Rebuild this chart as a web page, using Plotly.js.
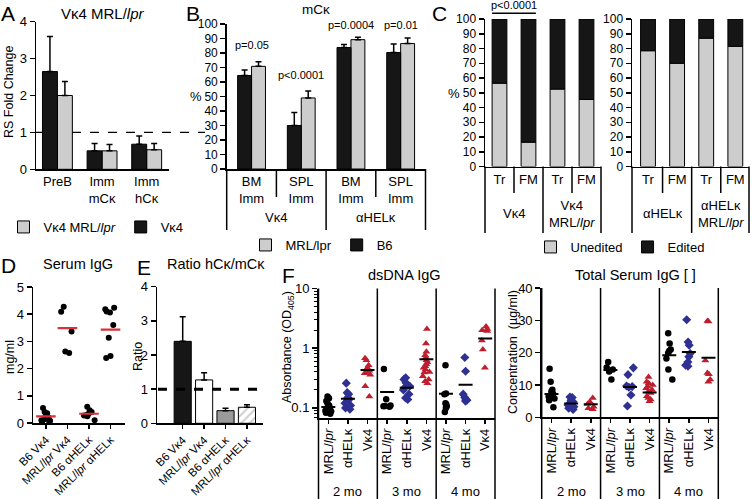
<!DOCTYPE html>
<html><head><meta charset="utf-8">
<script src="https://cdn.plot.ly/plotly-3.0.1.min.js"></script>
<style>html,body{margin:0;padding:0;background:#fff}#chart{width:752px;height:499px}</style>
</head><body><div id="chart"></div>
<script>
// ---------- DATA ----------
// A: RS fold change (Vκ4 MRL/lpr)
const catA = ['PreB', 'Imm<br>mCκ', 'Imm<br>hCκ'];
const aMrl = [2.0, 0.5, 0.53];
const aMrlErr = [0.38, 0.17, 0.17];
const aVk4 = [2.65, 0.5, 0.68];
const aVk4Err = [0.95, 0.2, 0.22];
// B: mCκ %
const catB = ['BM<br>Imm', 'SPL<br>Imm', 'BM<br>Imm', 'SPL<br>Imm'];
const groupB = ['Vκ4', 'αHELκ'];
const bMrl = [70.8, 49, 89.2, 86.5];
const bMrlErr = [3.2, 4.8, 1.6, 3.8];
const bB6 = [64.5, 30, 83.8, 80.3];
const bB6Err = [3.8, 9, 2.0, 5.9];
const pB = ['p=0.05', 'p<0.0001', 'p=0.0004', 'p=0.01'];
// C: % unedited / edited
const catC = ['Tr', 'FM', 'Tr', 'FM'];
const groupC1 = ['Vκ4', 'Vκ4<br>MRL/<i>lpr</i>'];
const groupC2 = ['αHELκ', 'αHELκ<br>MRL/<i>lpr</i>'];
const c1Unedited = [56.5, 16.5, 52.5, 45.5];
const c1Edited = [43.5, 83.5, 47.5, 54.5];
const c2Unedited = [78.5, 70, 87, 81.5];
const c2Edited = [21.5, 30, 13, 18.5];
// D: serum IgG (mg/ml)
const catD = ['B6 Vκ4', 'MRL/<i>lpr</i> Vκ4', 'B6 αHELκ', 'MRL/<i>lpr</i> αHELκ'];
const igB6Vk = [0.55, 0.4, 0.36, 0.25, 0.2, 0.15, 0.1, 0.08, 0.05, 0.05];
const igMrlVk = [4.27, 4.09, 3.36, 2.63, 2.57];
const igB6Hel = [0.6, 0.47, 0.4, 0.35, 0.3, 0.28, 0.25, 0.1];
const igMrlHel = [4.24, 4.18, 4.1, 4.06, 3.6, 3.13, 2.46, 2.39];
const igMeans = [0.24, 3.49, 0.34, 3.43];
// E: ratio hCκ/mCκ
const eRatio = [2.4, 1.27, 0.37, 0.47];
const eErr = [0.72, 0.21, 0.07, 0.07];
// F: groups and months
const catF = ['MRL/<i>lpr</i>', 'αHELκ', 'Vκ4'];
const months = ['2 mo', '3 mo', '4 mo'];
// F left: dsDNA IgG (OD405), per month
const dsMrl = [[0.155, 0.145, 0.13, 0.12, 0.11, 0.105, 0.1, 0.097, 0.09, 0.088, 0.083, 0.08],
               [0.45, 0.14, 0.11, 0.108, 0.107, 0.105],
               [0.52, 0.175, 0.17, 0.12, 0.115, 0.107, 0.1, 0.085]];
const dsHel = [[0.26, 0.18, 0.17, 0.15, 0.14, 0.13, 0.12, 0.11, 0.1, 0.095],
               [0.32, 0.3, 0.264, 0.23, 0.22, 0.2, 0.17, 0.147, 0.138],
               [0.7, 0.41, 0.17, 0.15, 0.14, 0.135, 0.13]];
const dsVk = [[0.68, 0.63, 0.52, 0.47, 0.42, 0.4, 0.38, 0.36, 0.23, 0.155],
              [2.1, 1.2, 0.87, 0.76, 0.7, 0.63, 0.58, 0.54, 0.5, 0.47, 0.44, 0.4, 0.39, 0.34, 0.3, 0.28, 0.26],
              [2.3, 2.1, 2.0, 1.95, 1.35, 0.95, 0.47]];
const dsMeanMrl = [0.104, 0.184, 0.173];
const dsMeanHel = [0.142, 0.218, 0.245];
const dsMeanVk = [0.43, 0.65, 1.45];
// F right: total serum IgG (µg/ml)
const tgMrl = [[15, 11, 8.5, 8, 7.3, 6.8, 6.4, 5.8, 5.3, 3.1],
               [17.1, 15.4, 14.8, 14.2, 11.7],
               [26, 22.8, 21, 20.5, 19.9, 18.2, 14.8, 11.7]];
const tgHel = [[6.3, 6.1, 5.3, 4.8, 4.3, 3.8, 3.3, 2.8, 2.4],
               [15.3, 13.2, 9.7, 9.5, 9.3, 6.9, 3.5],
               [30.2, 23.3, 22.3, 19.7, 18.7, 17.1, 16.1, 15.8]];
const tgVk = [[6, 4.8, 4.1, 3.3, 2.8, 2.5],
              [12.5, 11, 10.5, 10, 9.5, 9, 8.5, 8, 7.5, 6.5, 6, 5.5, 5],
              [29.8, 29.6, 17.6, 13.7, 13.3, 11.7, 11]];
const tgMeanMrl = [7.2, 14.6, 19.2];
const tgMeanHel = [4.3, 9.4, 20.2];
const tgMeanVk = [4.0, 7.7, 18.4];

// ---------- LAYOUT HELPERS ----------
const W = 752, H = 499;
const X = p => p / W;
const Y = p => 1 - p / H;
const BLACK = '#161616', GRAY = '#cdcdcd', BLUE = '#2e3192', RED = '#be1e2d', PINK = '#d9303a';
const FONT = 'Arial, "Liberation Sans", Helvetica, sans-serif';

const axBase = {showgrid: false, zeroline: false, showline: true, linecolor: '#000', linewidth: 1.5,
  ticks: 'outside', tickcolor: '#000', tickwidth: 1.5, ticklen: 5, tickfont: {size: 13, color: '#000'}, fixedrange: true};

const dom = {
  A: {x: [36, 169], y: [21.7, 169.3], xr: [-0.48, 2.5]},
  B: {x: [226.7, 425.5], y: [24, 169], xr: [-0.5, 3.5]},
  C1: {x: [485, 601], y: [19, 166.5], xr: [-0.5, 3.5]},
  C2: {x: [632, 749], y: [19, 166.5], xr: [-0.55, 3.47]},
  D: {x: [33, 124.5], y: [287, 423], xr: [-0.6, 3.65]},
  E: {x: [157, 263], y: [286.7, 423.3], xr: [-1.2, 3.75]},
  F1: {x: [318.5, 495], y: [288.5, 418], xr: [-0.5, 8.5]},
  F2: {x: [541.7, 718.3], y: [288, 417.3], xr: [-0.5, 8.5]}
};
function pxOf(key, v) { const d = dom[key]; return d.x[0] + (v - d.xr[0]) / (d.xr[1] - d.xr[0]) * (d.x[1] - d.x[0]); }
function xdom(k) { return [X(dom[k].x[0]), X(dom[k].x[1])]; }
function ydom(k) { return [Y(dom[k].y[1]), Y(dom[k].y[0])]; }
function vline(xp, y0, y1, w) {
  return {type: 'line', xref: 'paper', yref: 'paper', x0: X(xp), x1: X(xp), y0: Y(y0), y1: Y(y1), line: {color: '#000', width: w || 1.5}};
}
function idx(n) { return Array.from({length: n}, (_, i) => i); }

// ---------- TRACES ----------
const traces = [];
const errStyle = (arr) => ({type: 'data', array: arr, arrayminus: arr.map(() => 0), symmetric: false, color: '#000', thickness: 1.5, width: 3});

// A
const wA = 0.335;
traces.push({type: 'bar', x: idx(3), y: aMrl, name: 'Vκ4 MRL/<i>lpr</i>', xaxis: 'x', yaxis: 'y', offset: 0, width: wA,
  marker: {color: GRAY, line: {color: '#000', width: 1}}, error_y: errStyle(aMrlErr), legend: 'legend'});
traces.push({type: 'bar', x: idx(3), y: aVk4, name: 'Vκ4', xaxis: 'x', yaxis: 'y', offset: -wA, width: wA,
  marker: {color: BLACK, line: {color: '#000', width: 1}}, error_y: errStyle(aVk4Err), legend: 'legend'});
// B
const wB = 0.28;
traces.push({type: 'bar', x: idx(4), y: bMrl, name: 'MRL/lpr', xaxis: 'x2', yaxis: 'y2', offset: 0, width: wB,
  marker: {color: GRAY, line: {color: '#000', width: 1}}, error_y: errStyle(bMrlErr), legend: 'legend2'});
traces.push({type: 'bar', x: idx(4), y: bB6, name: 'B6', xaxis: 'x2', yaxis: 'y2', offset: -wB, width: wB,
  marker: {color: BLACK, line: {color: '#000', width: 1}}, error_y: errStyle(bB6Err), legend: 'legend2'});
// C
const wC = 0.51;
[['x3', 'y3', c1Unedited, c1Edited, true], ['x4', 'y4', c2Unedited, c2Edited, false]].forEach(([xa, ya, un, ed, lg]) => {
  traces.push({type: 'bar', x: idx(4), y: un, name: 'Unedited', xaxis: xa, yaxis: ya, offset: -wC / 2, width: wC,
    marker: {color: GRAY, line: {color: '#000', width: 1}}, legend: 'legend3', showlegend: lg});
  traces.push({type: 'bar', x: idx(4), y: ed, base: un, name: 'Edited', xaxis: xa, yaxis: ya, offset: -wC / 2, width: wC,
    marker: {color: BLACK, line: {color: '#000', width: 1}}, legend: 'legend3', showlegend: lg});
});
// strip points (jittered by the library)
function strip(groups, positions, xa, ya, marker, width, jitter) {
  const xs = [], ys = [];
  groups.forEach((g, i) => g.forEach(v => { xs.push(positions[i]); ys.push(v); }));
  return {type: 'box', x: xs, y: ys, xaxis: xa, yaxis: ya, boxpoints: 'all', jitter: jitter, pointpos: 0, width: width,
    fillcolor: 'rgba(0,0,0,0)', line: {width: 0, color: 'rgba(0,0,0,0)'}, marker: marker, showlegend: false, hoverinfo: 'skip'};
}
// D
traces.push(strip([igB6Vk, igMrlVk, igB6Hel, igMrlHel], idx(4), 'x5', 'y5', {symbol: 'circle', size: 6, color: '#000'}, 0.8, 0.75));
traces.push({type: 'scatter', mode: 'markers', x: idx(4), y: igMeans, xaxis: 'x5', yaxis: 'y5', showlegend: false,
  marker: {symbol: 'line-ew', size: 14, color: PINK, line: {width: 2.2, color: PINK}}});
// E
traces.push({type: 'bar', x: idx(4), y: eRatio, xaxis: 'x6', yaxis: 'y6', offset: -0.4, width: 0.8, showlegend: false,
  marker: {color: [BLACK, '#ffffff', '#9a9a9a', '#cfcfcf'], line: {color: '#000', width: 1},
    pattern: {shape: ['', '/', '', '/'], fillmode: 'replace', bgcolor: [BLACK, '#ffffff', '#9a9a9a', '#cfcfcf'],
      fgcolor: ['#000', '#000', '#000', '#ffffff'], size: 6, solidity: 0.35}},
  error_y: errStyle(eErr)});
// F
const symF = [{symbol: 'circle', size: 6.5, color: '#000'}, {symbol: 'diamond', size: 7, color: BLUE}, {symbol: 'triangle-up', size: 7, color: RED}];
[['x7', 'y7', [dsMrl, dsHel, dsVk], [dsMeanMrl, dsMeanHel, dsMeanVk]],
 ['x8', 'y8', [tgMrl, tgHel, tgVk], [tgMeanMrl, tgMeanHel, tgMeanVk]]].forEach(([xa, ya, sets, means]) => {
  sets.forEach((set, k) => {
    const pos = months.map((m, mi) => mi * 3 + k);
    traces.push(strip(set, pos, xa, ya, symF[k], 0.7, 0.55));
    traces.push({type: 'scatter', mode: 'markers', x: pos, y: means[k], xaxis: xa, yaxis: ya, showlegend: false,
      marker: {symbol: 'line-ew', size: 10, color: '#000', line: {width: 2, color: '#000'}}});
  });
});

// ---------- AXES ----------
const layout = {
  width: W, height: H, margin: {l: 0, r: 0, t: 0, b: 0}, paper_bgcolor: '#fff', plot_bgcolor: 'rgba(0,0,0,0)',
  font: {family: FONT, color: '#000', size: 13}, barmode: 'overlay', boxmode: 'overlay', hovermode: false,
  xaxis: Object.assign({}, axBase, {domain: xdom('A'), range: dom.A.xr, anchor: 'y', tickvals: idx(3), ticktext: catA, ticks: ''}),
  yaxis: Object.assign({}, axBase, {domain: ydom('A'), range: [0, 4], dtick: 1, anchor: 'x'}),
  xaxis2: Object.assign({}, axBase, {domain: xdom('B'), range: dom.B.xr, anchor: 'y2', tickvals: idx(4), ticktext: catB, ticks: ''}),
  yaxis2: Object.assign({}, axBase, {domain: ydom('B'), range: [0, 100], dtick: 10, anchor: 'x2', tickfont: {size: 12}}),
  xaxis3: Object.assign({}, axBase, {domain: xdom('C1'), range: dom.C1.xr, anchor: 'y3', tickvals: idx(4), ticktext: catC, ticks: ''}),
  yaxis3: Object.assign({}, axBase, {domain: ydom('C1'), range: [0, 100], dtick: 10, anchor: 'x3', tickfont: {size: 12}}),
  xaxis4: Object.assign({}, axBase, {domain: xdom('C2'), range: dom.C2.xr, anchor: 'y4', tickvals: idx(4), ticktext: catC, ticks: ''}),
  yaxis4: Object.assign({}, axBase, {domain: ydom('C2'), range: [0, 100], dtick: 10, anchor: 'x4', tickfont: {size: 12}}),
  xaxis5: Object.assign({}, axBase, {domain: xdom('D'), range: dom.D.xr, anchor: 'y5', tickvals: idx(4), ticktext: catD, tickangle: -45, ticklen: 4, tickfont: {size: 11.5}}),
  yaxis5: Object.assign({}, axBase, {domain: ydom('D'), range: [0, 5], dtick: 1, anchor: 'x5'}),
  xaxis6: Object.assign({}, axBase, {domain: xdom('E'), range: dom.E.xr, anchor: 'y6', tickvals: idx(4), ticktext: catD, tickangle: -45, ticklen: 4, tickfont: {size: 11.5}}),
  yaxis6: Object.assign({}, axBase, {domain: ydom('E'), range: [0, 4], dtick: 1, anchor: 'x6'}),
  xaxis7: Object.assign({}, axBase, {domain: xdom('F1'), range: dom.F1.xr, anchor: 'y7', tickvals: idx(9), ticktext: [].concat(catF, catF, catF), tickangle: -90, ticklen: 4}),
  yaxis7: Object.assign({}, axBase, {domain: ydom('F1'), type: 'log', range: [-1.169, 1], tickvals: [0.1, 1, 10], ticktext: ['0.1', '1', '10'], anchor: 'x7',
    minor: {ticks: 'outside', ticklen: 3, tickcolor: '#000', tickwidth: 1, dtick: 'D1'}}),
  xaxis8: Object.assign({}, axBase, {domain: xdom('F2'), range: dom.F2.xr, anchor: 'y8', tickvals: idx(9), ticktext: [].concat(catF, catF, catF), tickangle: -90, ticklen: 4}),
  yaxis8: Object.assign({}, axBase, {domain: ydom('F2'), range: [0, 40], dtick: 10, anchor: 'x8'}),
  legend: {x: X(96), xanchor: 'center', y: Y(227), yanchor: 'middle', orientation: 'h', font: {size: 13}, bgcolor: 'rgba(0,0,0,0)', traceorder: 'normal'},
  legend2: {x: X(322), xanchor: 'center', y: Y(245), yanchor: 'middle', orientation: 'h', font: {size: 13}, bgcolor: 'rgba(0,0,0,0)', traceorder: 'normal'},
  legend3: {x: X(620), xanchor: 'center', y: Y(247), yanchor: 'middle', orientation: 'h', font: {size: 13}, bgcolor: 'rgba(0,0,0,0)', traceorder: 'normal'},
  shapes: [], annotations: []
};

// ---------- SHAPES ----------
const S = layout.shapes;
// A reference line at 1
S.push({type: 'line', xref: 'paper', yref: 'y', x0: X(36), x1: X(205), y0: 1, y1: 1, layer: 'below', line: {color: '#000', width: 1.2, dash: 'dash'}});
// E reference line at 1
S.push({type: 'line', xref: 'paper', yref: 'y6', x0: X(158), x1: X(263), y0: 1, y1: 1, line: {color: '#000', width: 3, dash: 'dash'}});
// B separators
[-0.5, 1.5, 3.5].forEach(v => S.push(vline(pxOf('B', v), 169, 230)));
[0.5, 2.5].forEach(v => S.push(vline(pxOf('B', v), 169, 197)));
// C separators
['C1', 'C2'].forEach(k => {
  [dom[k].xr[0], 1.5, dom[k].xr[1]].forEach(v => S.push(vline(pxOf(k, v), 166.5, 233)));
  [0.5, 2.5].forEach(v => S.push(vline(pxOf(k, v), 166.5, 193)));
});
// C p-value bracket
S.push({type: 'line', xref: 'x3', yref: 'paper', x0: -wC / 2, x1: 1 + wC / 2, y0: Y(13.3), y1: Y(13.3), line: {color: '#000', width: 1.5}});
// F separators
['F1', 'F2'].forEach(k => { [-0.5, 2.5, 5.5, 8.5].forEach(v => S.push(vline(pxOf(k, v), dom[k].y[0], 499))); });

// ---------- ANNOTATIONS ----------
const A = layout.annotations;
function txt(text, x, y, size, opts) {
  A.push(Object.assign({text: text, xref: 'paper', yref: 'paper', x: X(x), y: Y(y), showarrow: false, font: {size: size, color: '#000'},
    xanchor: 'center', yanchor: 'middle'}, opts || {}));
}
// panel letters
[['A', 8, 13], ['B', 193, 13], ['C', 439, 13], ['D', 8, 265], ['E', 144, 267], ['F', 288, 275]].forEach(([t, x, y]) => txt(t, x, y, 21));
// titles
txt('Vκ4 MRL/<i>lpr</i>', 103, 13, 15);
txt('mCκ', 316, 9, 13.5);
txt('Serum IgG', 78, 264, 14.5);
txt('Ratio hCκ/mCκ', 216, 264, 14.5);
txt('dsDNA IgG', 404, 275, 14.5);
txt('Total Serum IgG [ ]', 635, 275, 14.5);
// axis titles
txt('RS Fold Change', 9, 92, 12.5, {textangle: -90});
txt('%', 196, 97, 13);
txt('%', 454, 94, 13);
txt('mg/ml', 10, 357, 12.5, {textangle: -90});
txt('Ratio', 138, 357, 12.5, {textangle: -90});
txt('Absorbance (OD<sub>405</sub>)', 288, 347, 12.5, {textangle: -90});
txt('Concentration\u00a0 (µg/ml)', 513, 352, 12.5, {textangle: -90});
// B p-values
[45, 75, 25, 25].forEach((y, i) => A.push({text: pB[i], xref: 'x2', yref: 'paper', x: i, y: Y(y), showarrow: false, font: {size: 11}, xanchor: 'center', yanchor: 'middle'}));
A.push({text: 'p<0.0001', xref: 'x3', yref: 'paper', x: 0.5, y: Y(5.5), showarrow: false, font: {size: 11}, xanchor: 'center', yanchor: 'middle'});
// group labels
groupB.forEach((g, i) => A.push({text: g, xref: 'x2', yref: 'paper', x: 0.5 + 2 * i, y: Y(217), showarrow: false, font: {size: 13}, xanchor: 'center', yanchor: 'middle'}));
groupC1.forEach((g, i) => A.push({text: g, xref: 'x3', yref: 'paper', x: 0.5 + 2 * i, y: Y(i ? 214 : 213), showarrow: false, font: {size: 13}, xanchor: 'center', yanchor: 'middle'}));
groupC2.forEach((g, i) => A.push({text: g, xref: 'x4', yref: 'paper', x: 0.5 + 2 * i, y: Y(i ? 214 : 213), showarrow: false, font: {size: 13}, xanchor: 'center', yanchor: 'middle'}));
['x7', 'x8'].forEach(xa => months.forEach((m, i) => A.push({text: m, xref: xa, yref: 'paper', x: 1 + 3 * i, y: Y(491.5), showarrow: false, font: {size: 13}, xanchor: 'center', yanchor: 'middle'})));

Plotly.newPlot('chart', traces, layout, {staticPlot: true, displayModeBar: false});
</script></body></html>
